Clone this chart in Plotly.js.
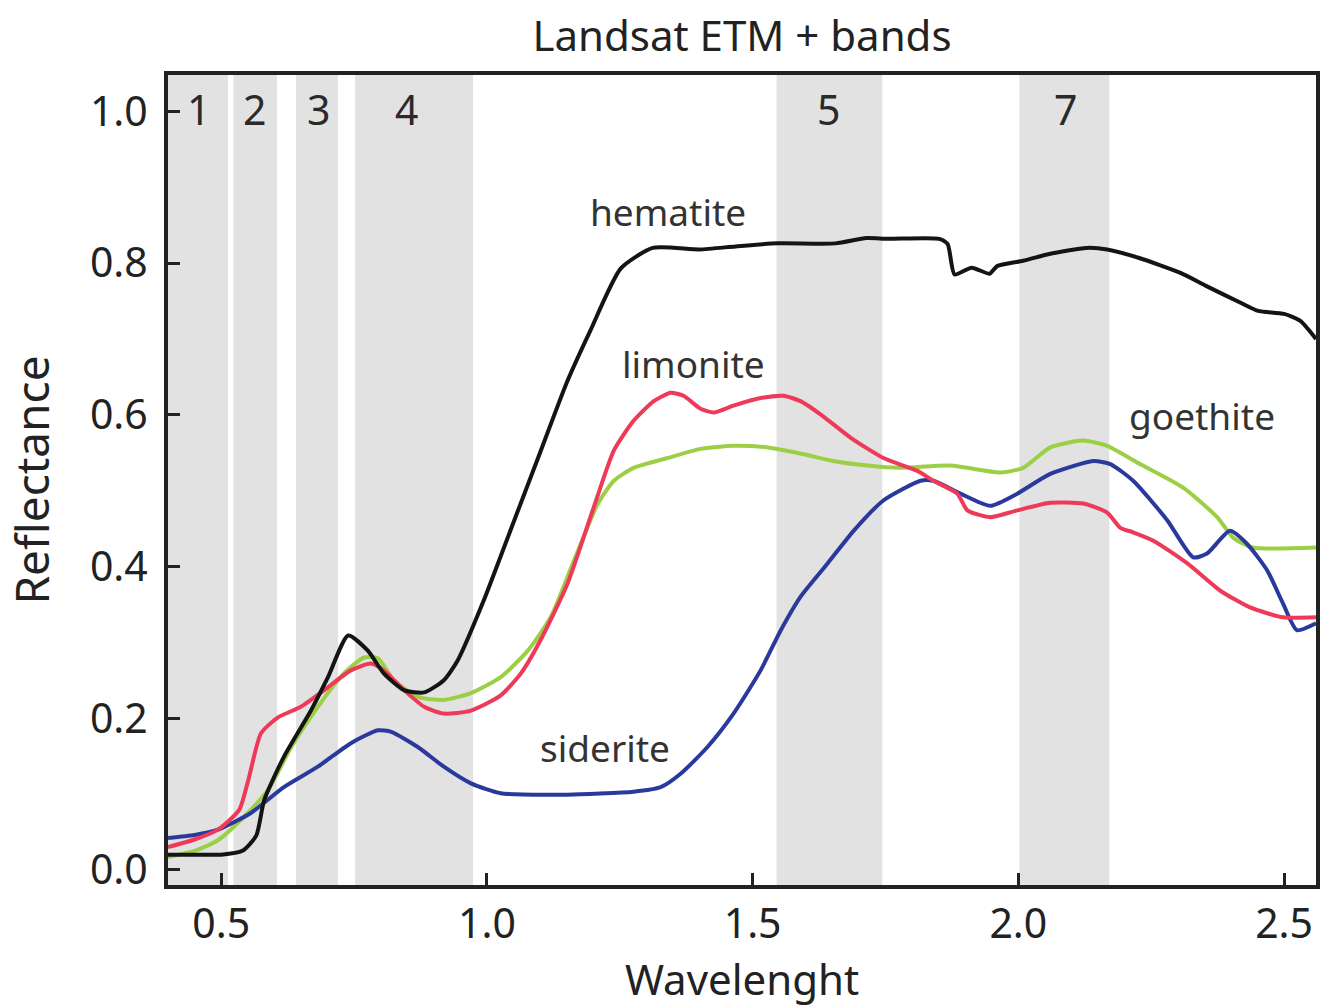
<!DOCTYPE html>
<html>
<head>
<meta charset="utf-8">
<script src="https://cdn.plot.ly/plotly-3.0.1.min.js"></script>
<style>html,body{margin:0;padding:0;background:#fff;}#chart{width:1324px;height:1008px;}</style>
</head>
<body>
<div id="chart"></div>
<script>
// Landsat ETM+ band ranges (micrometres)
const bandNames = ['1', '2', '3', '4', '5', '7'];
const bandStart = [0.40, 0.523, 0.641, 0.752, 1.545, 2.002];
const bandEnd   = [0.513, 0.605, 0.720, 0.974, 1.744, 2.171];

// Hematite
const hematiteX = [0.40,0.45,0.50,0.54,0.566,0.581,0.618,0.669,0.701,0.739,0.776,0.806,0.844,0.882,0.919,0.945,0.994,1.05,1.10,1.15,1.194,1.252,1.312,1.40,1.468,1.547,1.656,1.714,1.754,1.851,1.867,1.880,1.912,1.946,1.960,2.009,2.058,2.128,2.167,2.226,2.305,2.353,2.423,2.451,2.50,2.53,2.56];
const hematiteY = [0.020,0.020,0.020,0.025,0.045,0.092,0.149,0.210,0.254,0.309,0.289,0.259,0.237,0.234,0.250,0.276,0.355,0.458,0.550,0.642,0.710,0.793,0.820,0.818,0.822,0.826,0.826,0.833,0.832,0.832,0.825,0.785,0.794,0.786,0.796,0.803,0.812,0.820,0.818,0.807,0.787,0.770,0.746,0.737,0.733,0.724,0.700];

// Limonite
const limoniteX = [0.40,0.45,0.494,0.534,0.551,0.575,0.607,0.650,0.694,0.744,0.782,0.806,0.844,0.882,0.919,0.970,1.026,1.064,1.101,1.152,1.201,1.239,1.276,1.314,1.346,1.370,1.402,1.427,1.464,1.515,1.558,1.590,1.627,1.684,1.746,1.810,1.840,1.885,1.904,1.947,1.998,2.060,2.122,2.167,2.192,2.216,2.254,2.318,2.380,2.436,2.498,2.56];
const limoniteY = [0.030,0.040,0.053,0.079,0.118,0.180,0.201,0.215,0.237,0.263,0.272,0.263,0.237,0.215,0.206,0.210,0.230,0.259,0.303,0.378,0.478,0.553,0.592,0.618,0.629,0.625,0.608,0.603,0.612,0.622,0.625,0.618,0.601,0.570,0.543,0.526,0.513,0.496,0.474,0.465,0.474,0.484,0.483,0.471,0.451,0.445,0.434,0.404,0.368,0.346,0.333,0.333];

// Goethite
const goethiteX = [0.40,0.45,0.494,0.543,0.588,0.632,0.682,0.731,0.769,0.795,0.825,0.870,0.919,0.970,1.026,1.077,1.120,1.164,1.209,1.239,1.276,1.340,1.402,1.464,1.528,1.590,1.652,1.716,1.778,1.872,1.966,2.009,2.060,2.122,2.167,2.229,2.310,2.374,2.404,2.441,2.56];
const goethiteY = [0.017,0.025,0.039,0.070,0.105,0.162,0.215,0.259,0.280,0.279,0.250,0.228,0.224,0.233,0.254,0.289,0.333,0.408,0.483,0.513,0.530,0.543,0.555,0.559,0.557,0.549,0.539,0.533,0.530,0.533,0.524,0.530,0.557,0.566,0.559,0.535,0.504,0.465,0.438,0.425,0.425];

// Siderite
const sideriteX = [0.40,0.45,0.494,0.556,0.618,0.682,0.744,0.795,0.820,0.870,0.919,0.970,1.026,1.120,1.152,1.276,1.327,1.365,1.415,1.464,1.515,1.553,1.590,1.641,1.690,1.746,1.816,1.840,1.891,1.947,1.998,2.060,2.141,2.173,2.216,2.280,2.329,2.355,2.398,2.430,2.468,2.498,2.524,2.56];
const sideriteY = [0.042,0.046,0.053,0.075,0.109,0.136,0.167,0.184,0.182,0.162,0.136,0.114,0.101,0.099,0.099,0.103,0.109,0.127,0.162,0.206,0.263,0.316,0.360,0.404,0.447,0.487,0.513,0.513,0.496,0.480,0.496,0.522,0.539,0.535,0.513,0.461,0.412,0.417,0.447,0.430,0.395,0.351,0.316,0.325];

const xTickVals = [0.5, 1.0, 1.5, 2.0, 2.5];
const xTickText = ['0.5', '1.0', '1.5', '2.0', '2.5'];
const yTickVals = [0.0, 0.2, 0.4, 0.6, 0.8, 1.0];
const yTickText = ['0.0', '0.2', '0.4', '0.6', '0.8', '1.0'];

const FONT = 'Noto Sans, Open Sans, DejaVu Sans, sans-serif';

function line(x, y, color, name) {
  return {x: x, y: y, type: 'scatter', mode: 'lines', name: name,
          line: {color: color, width: 4, shape: 'spline', smoothing: 0.6},
          hoverinfo: 'skip'};
}

const traces = [
  line(goethiteX, goethiteY, '#9ccf45', 'goethite'),
  line(sideriteX, sideriteY, '#2a3a9c', 'siderite'),
  line(limoniteX, limoniteY, '#ee3a58', 'limonite'),
  line(hematiteX, hematiteY, '#141414', 'hematite')
];

const shapes = bandNames.map((b, i) => ({
  type: 'rect', xref: 'x', yref: 'paper', x0: bandStart[i], x1: bandEnd[i], y0: 0, y1: 1,
  fillcolor: '#e2e2e2', line: {width: 0}, layer: 'below'
}));

// band number labels (placement within each band as drawn in the figure)
const bandLabelPos = [0.457, 0.562, 0.684, 0.848, 1.643, 2.088];
const annotations = bandNames.map((b, i) => ({
  x: bandLabelPos[i], y: 1.003, xref: 'x', yref: 'y',
  text: b, showarrow: false, font: {family: FONT, size: 41, color: '#2a2a2a'},
  xanchor: 'center', yanchor: 'middle'
}));

const curveLabels = [
  {text: 'hematite', x: 1.340, y: 0.868},
  {text: 'limonite', x: 1.389, y: 0.668},
  {text: 'goethite', x: 2.346, y: 0.599},
  {text: 'siderite', x: 1.222, y: 0.161}
];
curveLabels.forEach(c => annotations.push({
  x: c.x, y: c.y, xref: 'x', yref: 'y', text: c.text, showarrow: false,
  font: {family: FONT, size: 37, color: '#333333'}, xanchor: 'center', yanchor: 'middle'
}));

const layout = {
  width: 1324, height: 1008,
  margin: {l: 168, r: 8, t: 75, b: 123},
  paper_bgcolor: '#ffffff', plot_bgcolor: '#ffffff',
  showlegend: false,
  font: {family: FONT, color: '#222222'},
  title: {text: 'Landsat ETM + bands', x: 0.5, xref: 'paper', y: 0.964, yref: 'container',
          xanchor: 'center', yanchor: 'middle', font: {family: FONT, size: 42, color: '#222222'}},
  xaxis: {
    range: [0.40, 2.56], tickvals: xTickVals, ticktext: xTickText,
    ticks: 'inside', ticklen: 12, tickwidth: 3, tickcolor: '#222',
    showline: true, linewidth: 4, linecolor: '#222', mirror: true,
    showgrid: false, zeroline: false,
    tickfont: {family: FONT, size: 41, color: '#222'},
    title: {text: 'Wavelenght', font: {family: FONT, size: 42, color: '#222'}, standoff: 8}
  },
  yaxis: {
    range: [-0.02, 1.048], tickvals: yTickVals, ticktext: yTickText,
    ticks: 'inside', ticklen: 12, tickwidth: 3, tickcolor: '#222',
    showline: true, linewidth: 4, linecolor: '#222', mirror: true,
    showgrid: false, zeroline: false,
    tickfont: {family: FONT, size: 41, color: '#222'},
    ticklabelstandoff: 8,
    title: {text: 'Reflectance', font: {family: FONT, size: 46, color: '#222'}, standoff: 28}
  },
  shapes: shapes,
  annotations: annotations
};

Plotly.newPlot('chart', traces, layout, {displayModeBar: false, staticPlot: true});
</script>
</body>
</html>
